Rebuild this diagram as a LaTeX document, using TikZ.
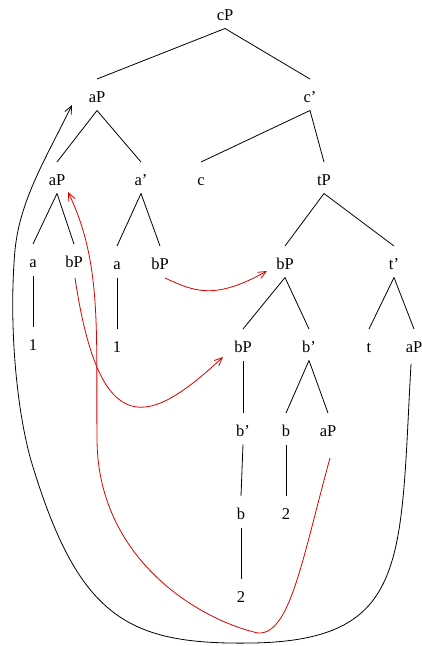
\documentclass[tikz,border=0pt]{standalone}
\usepackage{fontspec}
\setmainfont{Liberation Serif}
\usetikzlibrary{calc,arrows.meta}
\begin{document}
\begin{tikzpicture}[x=1pt,y=-1pt,
  lbl/.style={anchor=base,inner sep=0pt,font=\fontsize{16.5}{18}\selectfont},
  treeline/.style={line width=0.8pt,black},
  mvred/.style={line width=0.8pt,red!85!black,-{Straight Barb[length=8pt,width=7pt]}},
  mvblack/.style={line width=0.8pt,black,-{Straight Barb[length=8pt,width=7pt]}}]
\useasboundingbox (0,0) rectangle (422,646);
\newcommand{\tredge}[2]{\draw[treeline] ($(#1.base)+(0,8.5)$) -- ($(#2.base)+(0,-23)$);}
% level 0
\node[lbl] (cP) at (225,20) {cP};
% level 1
\node[lbl] (aP1) at (97,102) {aP};
\node[lbl] (c1) at (310,102) {c'};
% level 2
\node[lbl] (aP2) at (57,185) {aP};
\node[lbl] (a1) at (141,185) {a'};
\node[lbl] (c) at (201,185) {c};
\node[lbl] (tP) at (324,185) {tP};
% level 3
\node[lbl] (a2) at (33,267) {a};
\node[lbl] (bP1) at (74,267) {bP};
\node[lbl] (a3) at (117,269) {a};
\node[lbl] (bP2) at (160,269) {bP};
\node[lbl] (bP3) at (285,269) {bP};
\node[lbl] (t1) at (394,269) {t'};
% level 4
\node[lbl] (n1a) at (33,350) {1};
\node[lbl] (n1b) at (117,352) {1};
\node[lbl] (bP4) at (243,352) {bP};
\node[lbl] (b1) at (309,352) {b'};
\node[lbl] (t) at (369,352) {t};
\node[lbl] (aP5) at (414,352) {aP};
% level 5
\node[lbl] (b2) at (243,436) {b'};
\node[lbl] (b) at (286,436) {b};
\node[lbl] (aP6) at (328,436) {aP};
% level 6
\node[lbl] (b3) at (241,519) {b};
\node[lbl] (n2a) at (286,519) {2};
% level 7
\node[lbl] (n2b) at (241,602) {2};
% tree edges
\tredge{cP}{aP1}
\tredge{cP}{c1}
\tredge{aP1}{aP2}
\tredge{aP1}{a1}
\tredge{c1}{c}
\tredge{c1}{tP}
\tredge{aP2}{a2}
\tredge{aP2}{bP1}
\tredge{a1}{a3}
\tredge{a1}{bP2}
\tredge{tP}{bP3}
\tredge{tP}{t1}
\tredge{a2}{n1a}
\tredge{a3}{n1b}
\tredge{bP3}{bP4}
\tredge{bP3}{b1}
\tredge{t1}{t}
\tredge{t1}{aP5}
\tredge{bP4}{b2}
\tredge{b1}{b}
\tredge{b1}{aP6}
\tredge{b2}{b3}
\tredge{b}{n2a}
\tredge{b3}{n2b}
% movement arrows
\draw[mvred] ($(bP2.base)+(5,9)$) .. controls +(30,14) and +(-52,29) .. ($(bP3.base)+(-18,2)$);
\draw[mvred] ($(bP1.base)+(1,11)$) .. controls +(25,167) and +(-73,68) .. ($(bP4.base)+(-20,5)$);
\coordinate (r1) at (258,633);
\coordinate (r2) at (97,440);
\draw[mvred] ($(aP6.base)+(2,22)$) .. controls +(-28,102) and (290,635) .. (r1)
  .. controls (200,620) and (98,560) .. (r2)
  .. controls (96,330) and (102,262) .. ($(aP2.base)+(11,7)$);
\coordinate (k1) at (253,643);
\coordinate (k2) at (33,467);
\coordinate (k3) at (15,250);
\draw[mvblack] ($(aP5.base)+(-3,12)$) .. controls +(-11,196) and (410,640) .. (k1)
  .. controls (130,645) and (80,620) .. (k2)
  .. controls (18,420) and (8,330) .. (k3)
  .. controls (20,200) and (45,160) .. ($(aP1.base)+(-25,3)$);
\end{tikzpicture}
\end{document}
